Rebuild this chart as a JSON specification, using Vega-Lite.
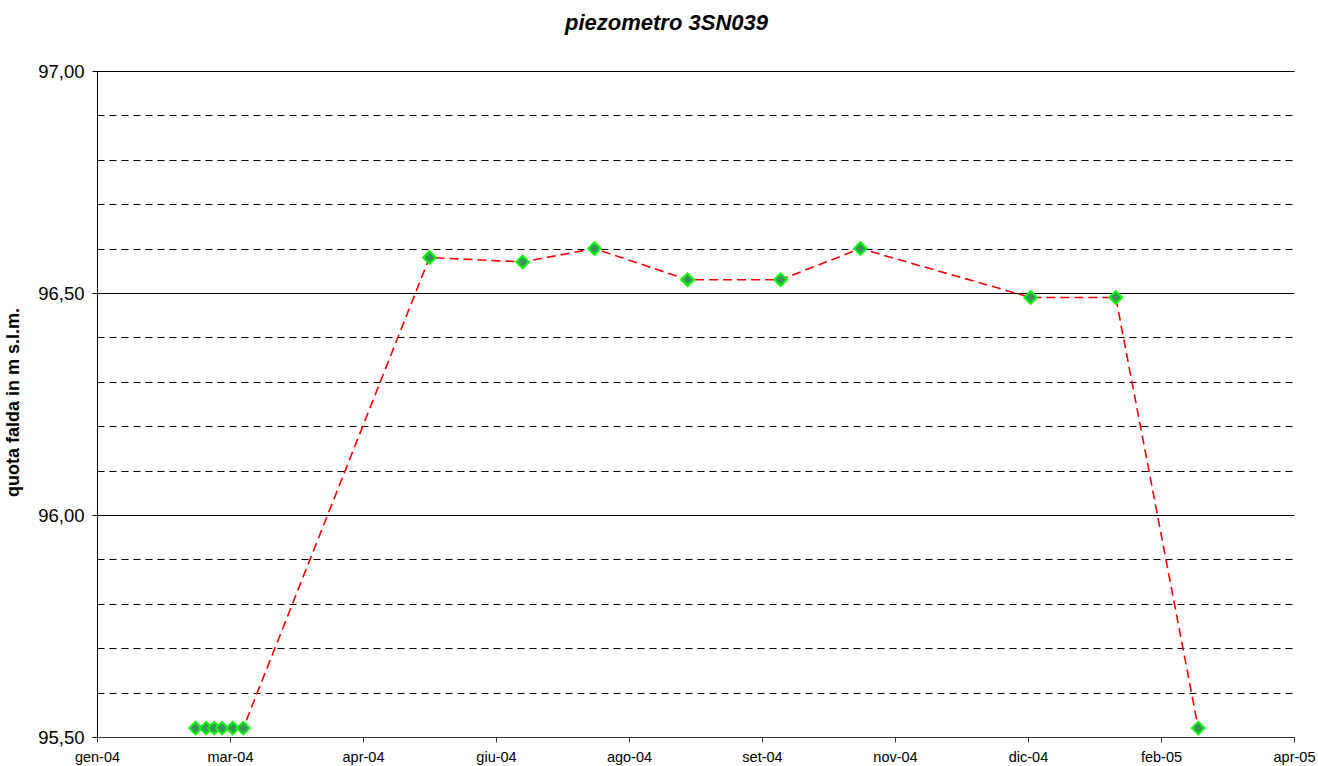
{
  "$schema": "https://vega.github.io/schema/vega-lite/v6.json",
  "width": 1197,
  "height": 666,
  "autosize": {"type": "none"},
  "padding": {"left": 97, "top": 71, "right": 24, "bottom": 29},
  "background": "white",
  "config": {"view": {"stroke": null}, "font": "Liberation Sans"},
  "title": {
    "text": "piezometro 3SN039",
    "font": "Liberation Sans",
    "fontSize": 22,
    "fontWeight": "bold",
    "fontStyle": "italic",
    "color": "black",
    "anchor": "middle",
    "dx": -29,
    "offset": 27
  },
  "data": {
    "values": [
      {"date": "2004-02-20", "quota": 95.52},
      {"date": "2004-02-24", "quota": 95.52},
      {"date": "2004-02-27", "quota": 95.52},
      {"date": "2004-03-01", "quota": 95.52},
      {"date": "2004-03-05", "quota": 95.52},
      {"date": "2004-03-09", "quota": 95.52},
      {"date": "2004-05-18", "quota": 96.58},
      {"date": "2004-06-22", "quota": 96.57},
      {"date": "2004-07-19", "quota": 96.60},
      {"date": "2004-08-23", "quota": 96.53},
      {"date": "2004-09-27", "quota": 96.53},
      {"date": "2004-10-27", "quota": 96.60},
      {"date": "2004-12-30", "quota": 96.49},
      {"date": "2005-01-31", "quota": 96.49},
      {"date": "2005-03-03", "quota": 95.52}
    ],
    "format": {"parse": {"date": "utc:'%Y-%m-%d'"}}
  },
  "encoding": {
    "x": {
      "field": "date",
      "type": "temporal",
      "scale": {
        "type": "utc",
        "domain": [
          {"year": 2004, "month": 1, "date": 14, "utc": true},
          {"year": 2005, "month": 4, "date": 8, "utc": true}
        ]
      },
      "axis": {
        "title": null,
        "grid": false,
        "values": [
          {"year": 2004, "month": 1, "date": 14, "utc": true},
          {"year": 2004, "month": 3, "date": 4, "utc": true},
          {"year": 2004, "month": 4, "date": 23, "utc": true},
          {"year": 2004, "month": 6, "date": 12, "utc": true},
          {"year": 2004, "month": 8, "date": 1, "utc": true},
          {"year": 2004, "month": 9, "date": 20, "utc": true},
          {"year": 2004, "month": 11, "date": 9, "utc": true},
          {"year": 2004, "month": 12, "date": 29, "utc": true},
          {"year": 2005, "month": 2, "date": 17, "utc": true},
          {"year": 2005, "month": 4, "date": 8, "utc": true}
        ],
        "labelExpr": "['gen','feb','mar','apr','mag','giu','lug','ago','set','ott','nov','dic'][utcmonth(datum.value)] + '-' + utcFormat(datum.value, '%y')",
        "labelFont": "Liberation Sans",
        "labelFontSize": 14.5,
        "labelColor": "black",
        "labelPadding": 8,
        "labelFlush": false,
        "labelOverlap": false,
        "tickSize": 5,
        "tickColor": "#333333",
        "domainColor": "#333333",
        "domainWidth": 1
      }
    },
    "y": {
      "field": "quota",
      "type": "quantitative",
      "scale": {"domain": [95.5, 97.0], "nice": false, "zero": false},
      "axis": {
        "title": "quota falda in m s.l.m.",
        "titleFont": "Liberation Sans",
        "titleFontSize": 18,
        "titleFontWeight": "bold",
        "titleColor": "black",
        "titleAngle": -90,
        "titleX": -84,
        "titleY": 331,
        "titleAlign": "center",
        "titleBaseline": "middle",
        "values": [95.5, 95.6, 95.7, 95.8, 95.9, 96.0, 96.1, 96.2, 96.3, 96.4, 96.5, 96.6, 96.7, 96.8, 96.9, 97.0],
        "labelExpr": "abs(datum.value*2 - round(datum.value*2)) < 0.01 ? replace(format(datum.value, '.2f'), '.', ',') : ''",
        "labelFont": "Liberation Sans",
        "labelFontSize": 18.5,
        "labelColor": "black",
        "labelPadding": 8,
        "labelOverlap": false,
        "labelFlush": false,
        "tickSize": 5,
        "tickColor": "black",
        "tickOpacity": {"condition": {"test": "abs(datum.value*2 - round(datum.value*2)) < 0.01", "value": 1}, "value": 0},
        "domainColor": "black",
        "domainWidth": 1,
        "grid": true,
        "gridColor": "black",
        "gridOpacity": 1,
        "gridWidth": 1,
        "gridDash": {"condition": {"test": "abs(datum.value*2 - round(datum.value*2)) < 0.01", "value": []}, "value": [7, 5]}
      }
    }
  },
  "layer": [
    {
      "mark": {"type": "line", "color": "#FF0000", "strokeWidth": 1.6, "strokeDash": [9, 5]}
    },
    {
      "mark": {"type": "point", "shape": "diamond", "filled": true, "fill": "#3A935E", "stroke": "#00FF00", "strokeWidth": 2, "size": 160, "opacity": 1, "fillOpacity": 1}
    }
  ]
}
